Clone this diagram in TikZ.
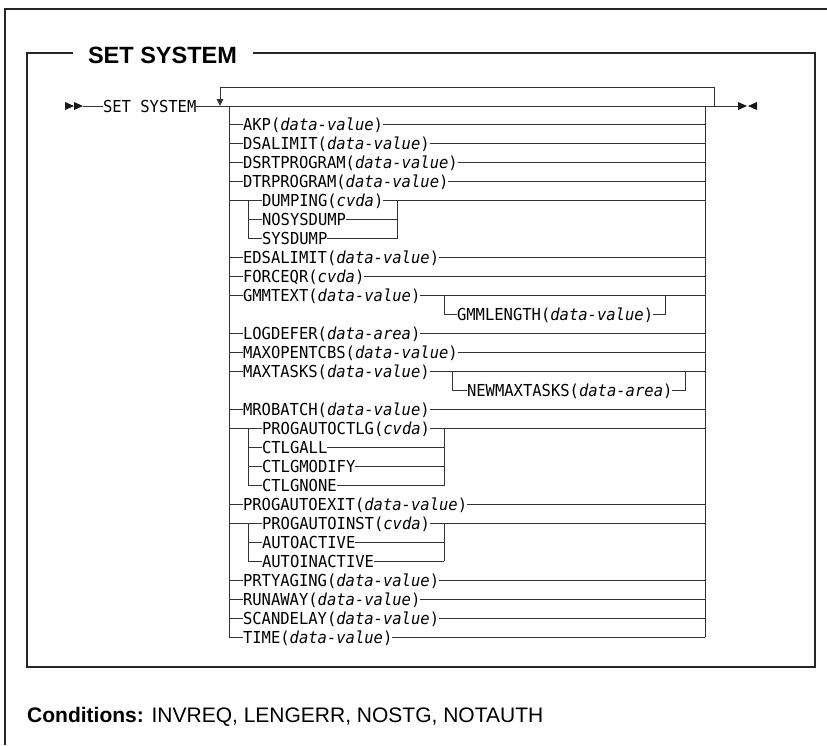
\documentclass[tikz,border=0pt]{standalone}
\usepackage{fontspec}
\setmainfont{Liberation Sans}
\setmonofont{DejaVu Sans Mono}[FakeStretch=0.94]
\usetikzlibrary{arrows.meta}
\tikzset{
  rr/.style={draw=black!80, line width=1pt},
  frame/.style={draw=black!85, line width=1.3pt},
  opt/.style={font=\ttfamily\fontsize{16.5}{17}\selectfont, inner sep=0pt, outer sep=0pt, text height=12pt, text depth=0pt, anchor=west},
  tri/.style={fill=black!90, draw=none},
}
\newcommand\rowy[1]{106+18.975*#1}
\newcommand\diagrow[3]{%
  \node[opt] (#1) at (243,{\rowy{#2}}) {#3};
  \draw[rr] (L |- #1.west) -- (#1.west);
  \draw[rr] (#1.east) -- (#1.east -| R);
}
\newcommand\grpfirst[3]{%
  \node[opt] (#1) at (262,{\rowy{#2}}) {#3};
  \draw[rr] (L |- #1.west) -- (#1.west);
  \draw[rr] (#1.east) -- (#1.east -| R);
}
\newcommand\grpitem[4]{%
  \node[opt] (#1) at (262,{\rowy{#2}}) {#3};
  \draw[rr] (G |- #1.west) -- (#1.west);
  \draw[rr] (#1.east) -- (#1.east -| #4);
}
\begin{document}
\begin{tikzpicture}[x=1pt,y=-1pt]
\useasboundingbox (0,0) rectangle (827,745);
% outer frame
\draw[frame] (827,9) -- (5,9) -- (5,745);
% title and inner box
\node[font=\bfseries\fontsize{23.5}{24}\selectfont, inner sep=0pt, anchor=base] (title) at (162.5,63) {SET SYSTEM};
\coordinate (tA) at (73,53);
\coordinate (tB) at (253,53);
\draw[frame] (tA) -- (27,53) -- (27,667) -- (815,667) -- (815,53) -- (tB);
% coordinates
\coordinate (L) at (229,0);
\coordinate (R) at (705,0);
\coordinate (G) at (248,0);
\coordinate (GA) at (397,0);
\coordinate (GB) at (444,0);
\coordinate (ml) at (0,106);
% start
\fill[tri] (65,102) -- (74,106) -- (65,110) -- cycle;
\fill[tri] (74,102) -- (83,106) -- (74,110) -- cycle;
\coordinate (st) at (83,106);
\node[opt] (setsys) at (103,106) {SET SYSTEM};
\draw[rr] (st) -- (setsys.west);
\coordinate (endp) at (738,106);
\draw[rr] (setsys.east) -- (endp);
\fill[tri] (738,102) -- (747,106) -- (738,110) -- cycle;
\fill[tri] (757,102) -- (748,106) -- (757,110) -- cycle;
% repeat loop
\coordinate (lpR) at (714,106);
\coordinate (lpL) at (220,106);
\draw[rr, -{Triangle[length=7pt,width=6.5pt]}] (lpR) -- (lpR |- 0,87) -- (lpL |- 0,87) -- (lpL);
% rows
\diagrow{akp}{1}{AKP(\textit{data-value})}
\diagrow{dsalimit}{2}{DSALIMIT(\textit{data-value})}
\diagrow{dsrt}{3}{DSRTPROGRAM(\textit{data-value})}
\diagrow{dtr}{4}{DTRPROGRAM(\textit{data-value})}
\grpfirst{dumping}{5}{DUMPING(\textit{cvda})}
\draw[rr] (dumping.east -| GA) -- (GA |- 0,{\rowy{7}});
\grpitem{nosys}{6}{NOSYSDUMP}{GA}
\grpitem{sysdump}{7}{SYSDUMP}{GA}
\draw[rr] (G |- dumping.west) -- (G |- sysdump.west);
\diagrow{edsa}{8}{EDSALIMIT(\textit{data-value})}
\diagrow{forceqr}{9}{FORCEQR(\textit{cvda})}
\diagrow{gmmtext}{10}{GMMTEXT(\textit{data-value})}
\coordinate (SA) at (444,0);
\coordinate (SAR) at (665,0);
\node[opt] (gmmlen) at (457,{\rowy{11}}) {GMMLENGTH(\textit{data-value})};
\draw[rr] (gmmtext.east -| SA) -- (SA |- gmmlen.west) -- (gmmlen.west);
\draw[rr] (gmmlen.east) -- (SAR |- gmmlen.west) -- (SAR |- gmmtext.east);
\diagrow{logdefer}{12}{LOGDEFER(\textit{data-area})}
\diagrow{maxopen}{13}{MAXOPENTCBS(\textit{data-value})}
\diagrow{maxtasks}{14}{MAXTASKS(\textit{data-value})}
\coordinate (SB) at (452,0);
\coordinate (SBR) at (685,0);
\node[opt] (newmax) at (467,{\rowy{15}}) {NEWMAXTASKS(\textit{data-area})};
\draw[rr] (maxtasks.east -| SB) -- (SB |- newmax.west) -- (newmax.west);
\draw[rr] (newmax.east) -- (SBR |- newmax.west) -- (SBR |- maxtasks.east);
\diagrow{mrobatch}{16}{MROBATCH(\textit{data-value})}
\grpfirst{pactlg}{17}{PROGAUTOCTLG(\textit{cvda})}
\grpitem{ctlgall}{18}{CTLGALL}{GB}
\grpitem{ctlgmod}{19}{CTLGMODIFY}{GB}
\grpitem{ctlgnone}{20}{CTLGNONE}{GB}
\draw[rr] (G |- pactlg.west) -- (G |- ctlgnone.west);
\draw[rr] (GB |- pactlg.west) -- (GB |- ctlgnone.west);
\diagrow{paexit}{21}{PROGAUTOEXIT(\textit{data-value})}
\grpfirst{painst}{22}{PROGAUTOINST(\textit{cvda})}
\grpitem{autoact}{23}{AUTOACTIVE}{GB}
\grpitem{autoinact}{24}{AUTOINACTIVE}{GB}
\draw[rr] (G |- painst.west) -- (G |- autoinact.west);
\draw[rr] (GB |- painst.west) -- (GB |- autoinact.west);
\diagrow{prty}{25}{PRTYAGING(\textit{data-value})}
\diagrow{runaway}{26}{RUNAWAY(\textit{data-value})}
\diagrow{scandelay}{27}{SCANDELAY(\textit{data-value})}
\diagrow{time}{28}{TIME(\textit{data-value})}
% stack verticals
\draw[rr] (L |- ml) -- (L |- time.west);
\draw[rr] (R |- ml) -- (R |- time.west);
% conditions
\node[anchor=base west, inner sep=0pt, font=\fontsize{21}{22}\selectfont] (cond) at (27,722) {\textbf{Conditions:} INVREQ, LENGERR, NOSTG, NOTAUTH};
\end{tikzpicture}
\end{document}
